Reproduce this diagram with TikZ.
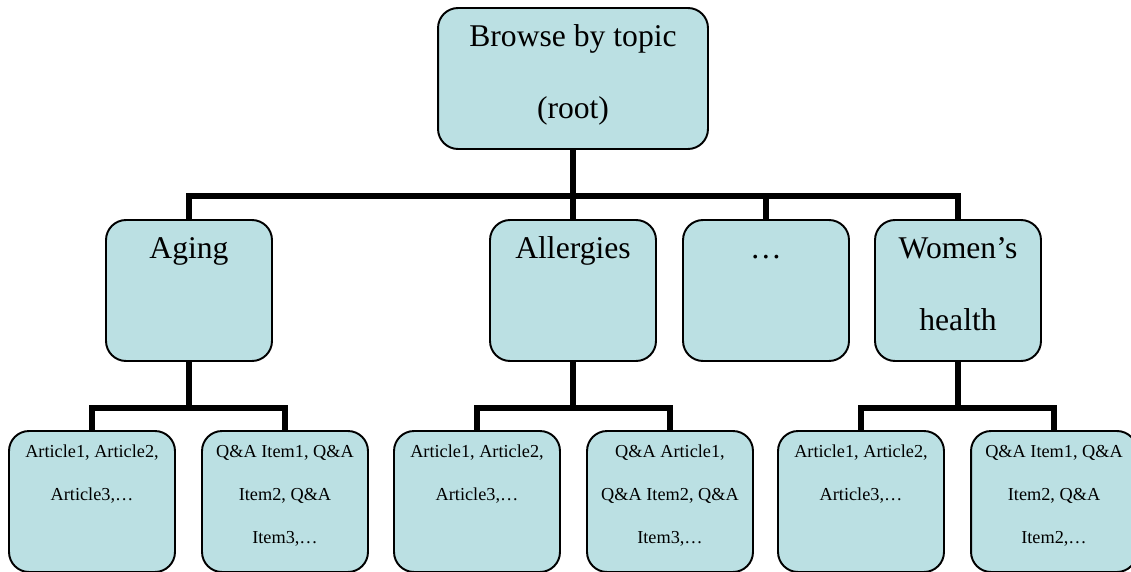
\documentclass[tikz,border=0pt]{standalone}
\usepackage{fontspec}
\setmainfont{Liberation Serif}
\definecolor{boxfill}{HTML}{BBE0E3}
\begin{document}
\begin{tikzpicture}[x=0.02cm, y=-0.02cm,
  box/.style={draw, line width=1.1pt, fill=boxfill, rounded corners=0.4cm,
    minimum width=3.32cm, minimum height=2.82cm, inner sep=0pt},
  big/.style={anchor=north, inner sep=0pt, align=center, yshift=6.6pt,
    font=\fontsize{18}{41}\selectfont},
  small/.style={anchor=north, inner sep=0pt, align=center, yshift=1.6pt,
    font=\fontsize{10.4}{24.5}\selectfont},
  link/.style={line width=3.4pt}]
\useasboundingbox (0,0) rectangle (1131,571);
\clip (0,0) rectangle (1131,571);
\node [box, minimum width=5.4cm] (root) at (573,78.5) {};
\node [box] (aging) at (189,290.5) {};
\node [box] (allergies) at (573,290.5) {};
\node [box] (dots) at (766,290.5) {};
\node [box] (women) at (958,290.5) {};
\node [box] (agart) at (92,501.5) {};
\node [box] (agqa) at (285,501.5) {};
\node [box] (alart) at (477,501.5) {};
\node [box] (alqa) at (670,501.5) {};
\node [box] (woart) at (861,501.5) {};
\node [box] (woqa) at (1054,501.5) {};
\node [big] (root-t) at (root.north) {\strut Browse by topic\\(root)};
\node [big] (aging-t) at (aging.north) {\strut Aging};
\node [big] (allergies-t) at (allergies.north) {\strut Allergies};
\node [big] (dots-t) at (dots.north) {\strut …};
\node [big] (women-t) at (women.north) {\strut Women’s\\health};
\node [small] (agart-t) at (agart.north) {\strut Article1, Article2,\\Article3,…};
\node [small] (agqa-t) at (agqa.north) {\strut Q\&A Item1, Q\&A\\Item2, Q\&A\\Item3,…};
\node [small] (alart-t) at (alart.north) {\strut Article1, Article2,\\Article3,…};
\node [small] (alqa-t) at (alqa.north) {\strut Q\&A Article1,\\Q\&A Item2, Q\&A\\Item3,…};
\node [small] (woart-t) at (woart.north) {\strut Article1, Article2,\\Article3,…};
\node [small] (woqa-t) at (woqa.north) {\strut Q\&A Item1, Q\&A\\Item2, Q\&A\\Item2,…};
\coordinate (bus) at (573,196);
\coordinate (agbus) at (189,408);
\coordinate (albus) at (573,408);
\coordinate (wobus) at (958,408);
\draw [link] (root) -- (bus);
\draw [link] (aging.north) |- (bus) -| (women.north);
\draw [link] (bus) -- (allergies);
\draw [link] (dots.north) |- (bus);
\draw [link] (aging) -- (agbus);
\draw [link] (agart.north) |- (agbus) -| (agqa.north);
\draw [link] (allergies) -- (albus);
\draw [link] (alart.north) |- (albus) -| (alqa.north);
\draw [link] (women) -- (wobus);
\draw [link] (woart.north) |- (wobus) -| (woqa.north);
\end{tikzpicture}
\end{document}
